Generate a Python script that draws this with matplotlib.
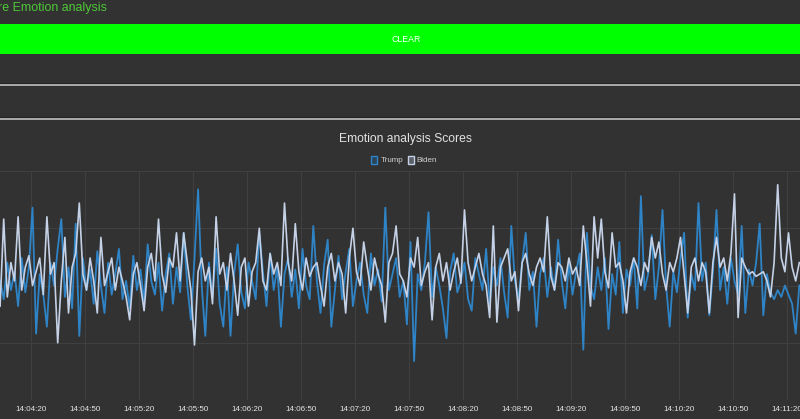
import matplotlib
matplotlib.use('Agg')
import matplotlib.pyplot as plt
import matplotlib.dates as mdates
from matplotlib.patches import Rectangle
from matplotlib.lines import Line2D
from datetime import datetime, timedelta

# one sample every 2 seconds, starting 14:04:03
start_time = datetime(2020, 11, 3, 14, 4, 3)
step_seconds = 2

trump = [
    52, 44, 60, 48, 56, 41, 62, 47, 58, 84,
    29, 55, 46, 32, 60, 50, 66, 79, 45, 58,
    40, 77, 28, 62, 48, 57, 42, 65, 50, 38,
    60, 46, 55, 66, 44, 52, 40, 63, 48, 57,
    43, 68, 52, 46, 60, 39, 55, 64, 42, 58,
    47, 73, 50, 35, 62, 92, 50, 28, 60, 45,
    66, 42, 32, 58, 28, 55, 68, 47, 40, 60,
    52, 44, 73, 56, 41, 64, 48, 58, 32, 55,
    62, 45, 57, 40, 66, 50, 44, 76, 52, 38,
    59, 70, 32, 48, 63, 44, 56, 66, 41, 52,
    60, 46, 38, 64, 50, 57, 43, 84, 48, 55,
    62, 45, 52, 33, 69, 17, 55, 48, 60, 82,
    45, 58, 50, 40, 27, 56, 64, 47, 52, 60,
    44, 39, 62, 55, 48, 66, 42, 58, 50, 62,
    47, 36, 76, 52, 44, 60, 73, 48, 56, 32,
    55, 62, 45, 58, 48, 70, 52, 40, 60, 46,
    56, 64, 22, 73, 50, 44, 58, 48, 62, 31,
    55, 46, 69, 38, 57, 50, 62, 40, 89, 48,
    55, 72, 44, 58, 83, 50, 32, 56, 47, 62,
    73, 36, 55, 48, 86, 52, 60, 37, 56, 83,
    48, 58, 42, 62, 52, 46, 76, 38, 57, 50,
    60, 77, 37, 55, 47, 44, 48, 45, 50, 46,
    42, 29, 50,
]

biden = [
    41, 79, 45, 60, 52, 80, 48, 58, 63, 50,
    56, 62, 46, 80, 55, 60, 25, 52, 71, 38,
    58, 64, 86, 55, 48, 62, 52, 38, 71, 50,
    56, 62, 48, 58, 52, 45, 35, 55, 60, 50,
    39, 58, 64, 52, 79, 55, 47, 62, 58, 73,
    52, 73, 60, 48, 24, 56, 62, 52, 58, 42,
    80, 55, 60, 48, 64, 52, 37, 58, 62, 41,
    56, 60, 75, 52, 48, 64, 55, 60, 50, 86,
    60, 52, 77, 56, 48, 62, 54, 58, 60, 50,
    41, 58, 64, 52, 60, 55, 38, 62, 75, 56,
    50, 69, 58, 48, 62, 55, 50, 34, 60, 64,
    76, 55, 52, 45, 62, 58, 71, 50, 56, 60,
    35, 58, 64, 52, 60, 48, 56, 62, 51, 83,
    60, 52, 58, 64, 55, 50, 36, 76, 34, 58,
    62, 66, 52, 56, 39, 60, 64, 55, 50, 58,
    62, 56, 80, 54, 48, 60, 58, 52, 62, 55,
    58, 50, 76, 60, 41, 80, 62, 79, 56, 49,
    73, 58, 60, 52, 38, 56, 62, 58, 50, 60,
    56, 71, 62, 69, 55, 48, 60, 56, 62, 71,
    55, 38, 58, 62, 52, 60, 56, 38, 60, 71,
    58, 62, 52, 64, 90, 36, 62, 58, 55, 56,
    54, 55, 56, 52, 45, 60, 94, 62, 56, 73,
    58, 52, 60,
]

series_names = ['Trump', 'Biden']
y_ticks = [0, 25, 50, 75, 100]
tick_times = [datetime(2020, 11, 3, 14, 4, 20) + timedelta(seconds=30 * i) for i in range(15)]

BG = '#323232'
TRUMP_COLOR = '#2e84c6'
BIDEN_COLOR = '#c4d1e6'
W, H = 800, 419

times = [start_time + timedelta(seconds=step_seconds * i) for i in range(len(trump))]
x_values = mdates.date2num(times)

fig = plt.figure(figsize=(W / 100, H / 100), dpi=100, facecolor=BG)
plt.rcParams['font.family'] = ['Liberation Sans', 'DejaVu Sans']

# page header and the green button
fig.text(-0.003, 1 - 8.5 / H, 're Emotion analysis', color='#4ec937', fontsize=8.9,
         ha='left', va='center')
fig.patches.append(Rectangle((0, 1 - 54 / H), 1, 30 / H, transform=fig.transFigure,
                             facecolor='#00ff00', edgecolor='none'))
fig.text(406 / W, 1 - 39 / H, 'CLEAR', color='white', fontsize=6.3, ha='center', va='center')

# two input boxes underlines
for yy in (85, 119):
    fig.lines.append(Line2D([0, 1], [1 - (yy - 1.5) / H] * 2, transform=fig.transFigure,
                            color='#242424', lw=0.8))
    fig.lines.append(Line2D([0, 1], [1 - yy / H] * 2, transform=fig.transFigure,
                            color='#b4b4b4', lw=1.3))

# chart title and legend
fig.text(406 / W, 1 - 139 / H, 'Emotion analysis Scores', color='#e2e2e2', fontsize=8.7,
         ha='center', va='center')
legend_items = [(371, 381, TRUMP_COLOR, '#2a4458'), (408, 416, BIDEN_COLOR, '#5a5f68')]
for name, (bx, tx, edge, face) in zip(series_names, legend_items):
    fig.patches.append(Rectangle((bx / W, 1 - 164 / H), 6 / W, 8 / H, transform=fig.transFigure,
                                 facecolor=face, edgecolor=edge, lw=1.0))
    fig.text(tx / W, 1 - 160.5 / H, name, color='#d0d0d0', fontsize=5.8, ha='left', va='center')

ax = fig.add_axes([0, 1 - 400 / H, 1, 229 / H])
ax.set_facecolor(BG)
ax.plot(x_values, trump, color=TRUMP_COLOR, lw=1.3, solid_joinstyle='round', label='Trump')
ax.plot(x_values, biden, color=BIDEN_COLOR, lw=1.2, solid_joinstyle='round', label='Biden')

x_left = mdates.date2num(tick_times[0] - timedelta(seconds=30.7 / 1.8))
x_right = mdates.date2num(tick_times[0] + timedelta(seconds=(W - 30.7) / 1.8))
ax.set_xlim(x_left, x_right)
ax.set_ylim(y_ticks[0], y_ticks[-1])
ax.set_yticks(y_ticks)
ax.set_xticks(mdates.date2num(tick_times))
ax.xaxis.set_major_formatter(mdates.DateFormatter('%H:%M:%S'))
ax.tick_params(axis='x', length=0, pad=4, labelsize=5.8, labelcolor='#e6e6e6')
ax.tick_params(axis='y', length=0, labelleft=False)
ax.grid(True, color='#404040', lw=0.8)
ax.set_axisbelow(True)
for s in ax.spines.values():
    s.set_visible(False)

fig.savefig('out.png', dpi=100, facecolor=BG)
